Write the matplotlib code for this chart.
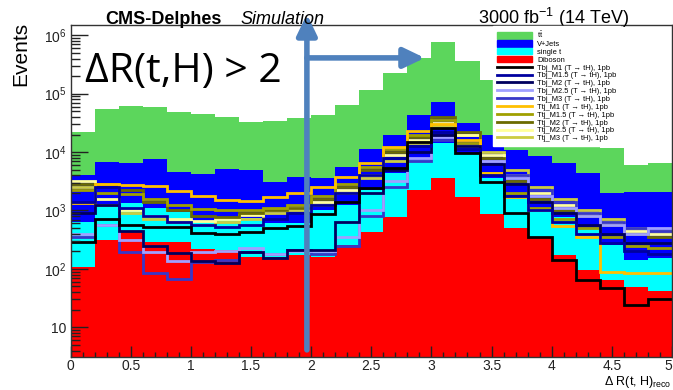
import numpy as np
import matplotlib.pyplot as plt
from matplotlib.patches import Patch
from matplotlib.lines import Line2D
from matplotlib.ticker import FixedLocator, FuncFormatter, MultipleLocator, LogLocator

plt.rcParams['font.family'] = ['Liberation Sans', 'DejaVu Sans']
plt.rcParams['mathtext.default'] = 'regular'

# 25 bins of 0.2 in Delta R(t,H)
bin_edges = np.arange(0, 5.01, 0.2)
x_ticks = [0, 0.5, 1, 1.5, 2, 2.5, 3, 3.5, 4, 4.5, 5]
x_labels = ['0', '0.5', '1', '1.5', '2', '2.5', '3', '3.5', '4', '4.5', '5']

# backgrounds (events per bin)
diboson = [107, 316, 427, 288, 288, 219, 209, 162, 162, 174, 162, 257, 427,
           776, 2239, 3631, 1698, 871, 501, 339, 174, 95, 65, 48, 41]
single_t = [524, 832, 922, 808, 645, 412, 483, 579, 455, 443, 861, 973, 1812,
            3589, 5005, 10494, 7852, 2760, 1197, 684, 602, 406, 192, 93, 114]
vjets = [3443, 5613, 5108, 6490, 3638, 3538, 4437, 4157, 2473, 3098, 2608, 4265,
         8981, 15133, 35414, 56670, 22073, 15867, 9017, 7488, 5681, 3864, 1738, 1948, 1934]
ttbar = [17804, 48193, 55203, 51298, 43292, 40499, 34682, 27461, 30794, 34304,
         39027, 57601, 103595, 204374, 364722, 687783, 331455, 150326, 82610,
         43970, 22383, 13013, 9754, 3937, 4368]

# signals, 1 pb each
tbj_m1 = [288, 708, 562, 525, 525, 417, 398, 427, 501, 550, 871, 1413, 2399, 5370,
          14791, 25704, 9550, 3090, 912, 355, 141, 65, 48, 24, 30]
tbj_m15 = [1413, 2512, 1122, 794, 631, 562, 525, 562, 708, 891, 1259, 1995, 3981,
           7943, 12589, 22387, 11220, 3981, 1778, 1000, 631, 398, 282, 200, 178]
tbj_m2 = [891, 1259, 447, 251, 186, 138, 126, 195, 155, 209, 209, 631, 1995, 5012,
          10000, 19953, 12589, 6310, 2818, 1413, 891, 562, 398, 282, 282]
tbj_m25 = [398, 575, 316, 195, 138, 195, 200, 224, 178, 200, 200, 355, 1000, 3162,
           7943, 17783, 12589, 7079, 3548, 1778, 1122, 794, 562, 398, 501]
tbj_m3 = [355, 575, 195, 85, 68, 132, 141, 191, 182, 209, 178, 251, 794, 2512,
          7079, 15849, 12589, 7079, 3981, 2239, 1413, 891, 631, 501, 447]
ttj_m1 = [1349, 2818, 2754, 2630, 2138, 1778, 1514, 1445, 1698, 1995, 2512, 3715,
          6457, 12303, 22909, 30200, 16218, 4365, 1698, 1023, 550, 355, 89, 85, 85]
ttj_m15 = [2239, 1995, 1905, 1585, 1259, 1047, 1000, 1000, 1122, 1259, 1778, 2818,
           5623, 11220, 19953, 35481, 14125, 4467, 1995, 1122, 708, 501, 355, 251, 224]
ttj_m2 = [2818, 2818, 2239, 1413, 1000, 794, 759, 891, 1000, 1122, 1585, 2512, 5012,
          10000, 17783, 39811, 22387, 7943, 3162, 1585, 1000, 794, 562, 398, 355]
ttj_m25 = [3162, 1585, 1000, 794, 708, 661, 708, 832, 1000, 1122, 1413, 2239, 3981,
           8913, 15849, 31623, 19953, 8913, 3981, 1995, 1259, 891, 631, 447, 398]
ttj_m3 = [2512, 1259, 891, 708, 631, 562, 631, 708, 891, 1000, 1259, 1995, 3548,
          7079, 14125, 28184, 19953, 10000, 5012, 2512, 1585, 1000, 708, 501, 447]

bkg_names = ['t$\\bar{t}$', 'V+Jets', 'single t', 'Diboson']
bkg_colors = ['#5cd65c', '#0000ff', '#00ffff', '#ff0000']

sig_names = ['Tbj_M1 (T \u2192 tH), 1pb', 'Tbj_M1.5 (T \u2192 tH), 1pb',
             'Tbj_M2 (T \u2192 tH), 1pb', 'Tbj_M2.5 (T \u2192 tH), 1pb',
             'Tbj_M3 (T \u2192 tH), 1pb', 'Ttj_M1 (T \u2192 tH), 1pb',
             'Ttj_M1.5 (T \u2192 tH), 1pb', 'Ttj_M2 (T \u2192 tH), 1pb',
             'Ttj_M2.5 (T \u2192 tH), 1pb', 'Ttj_M3 (T \u2192 tH), 1pb']
sig_colors = ['#000000', '#0000a0', '#00005e', '#a0a0ff', '#3838c8',
              '#ffc000', '#a0a000', '#6b6b00', '#ffff99', '#cccc40']
signals = [tbj_m1, tbj_m15, tbj_m2, tbj_m25, tbj_m3,
           ttj_m1, ttj_m15, ttj_m2, ttj_m25, ttj_m3]

fig = plt.figure(figsize=(6.73, 3.90), dpi=100)
ax = fig.add_axes([70.5/673, 1-357/390, 601.5/673, 332/390])
ax.set_yscale('log')

# stack: diboson at the bottom, ttbar on top
bottom = np.full(len(diboson), 0.1)
for vals, col in zip([diboson, single_t, vjets, ttbar], bkg_colors[::-1]):
    top = bottom + np.array(vals)
    ax.stairs(top, bin_edges, baseline=bottom, fill=True, color=col, lw=0)
    bottom = top

# signal lines, M1 on top
for vals, col in list(zip(signals, sig_colors))[::-1]:
    ax.stairs(vals, bin_edges, baseline=None, color=col, lw=2)

ax.set_xlim(0, 5)
ax.set_ylim(3.1, 1.5e6)

ax.set_xticks(x_ticks, x_labels)
ax.xaxis.set_minor_locator(MultipleLocator(0.1))
ax.get_xticklabels()[-1].set_horizontalalignment('right')  # "5" sits on the right edge
ax.yaxis.set_major_locator(FixedLocator([10, 1e2, 1e3, 1e4, 1e5, 1e6]))
ax.yaxis.set_minor_locator(LogLocator(base=10, subs=np.arange(2, 10)))
def yfmt(v, p):
    e = int(round(np.log10(v)))
    return '10' if e == 1 else '$10^{%d}$' % e
ax.yaxis.set_major_formatter(FuncFormatter(yfmt))

ax.tick_params(which='both', direction='in', labelsize=10, colors='#222222')
ax.tick_params(axis='y', which='major', length=12, width=1, pad=3)
ax.tick_params(axis='y', which='minor', length=6.5, width=1)
ax.tick_params(axis='x', which='major', length=8, width=1, pad=1.5)
ax.tick_params(axis='x', which='minor', length=3.5, width=1)
for s in ax.spines.values():
    s.set_color('#333333')
    s.set_linewidth(1)

# titles
fig.text(105/673, 1-24.5/390, 'CMS-Delphes', fontsize=13, fontweight='bold', va='baseline')
fig.text(240/673, 1-24.5/390, 'Simulation', fontsize=13, style='italic', va='baseline')
fig.text(478/673, 1-24/390, '3000 fb$^{-1}$ (14 TeV)', fontsize=13, va='baseline')
fig.text(21/673, 1-22/390, 'Events', fontsize=15, rotation=90, ha='center', va='top')
fig.text(671/673, 1-385.5/390, '\u0394 R(t, H)$_{reco}$', fontsize=9, ha='right', va='baseline')

# cut annotation
fig.text(85/673, 1-82/390, '\u0394R(t,H) > 2', fontsize=29.5, va='baseline',
         family=['Open Sans', 'DejaVu Sans'])
arrow_col = '#4f81bd'
ax.annotate('', xy=(1.965, 2.3e6), xytext=(1.965, 4.1),
            arrowprops=dict(arrowstyle='-|>,head_length=1.25,head_width=0.6',
                            color=arrow_col, lw=4, shrinkA=0, shrinkB=0),
            annotation_clip=False, zorder=5)
ax.annotate('', xy=(2.945, 4.1e5), xytext=(1.965, 4.1e5),
            arrowprops=dict(arrowstyle='-|>,head_length=1.25,head_width=0.6',
                            color=arrow_col, lw=4, shrinkA=0, shrinkB=0),
            annotation_clip=False, zorder=5)

handles = [Patch(facecolor=c, edgecolor=c) for c in bkg_colors]
handles += [Line2D([], [], color=c, lw=2) for c in sig_colors]
fig.legend(handles, bkg_names + sig_names, loc='upper left',
           bbox_to_anchor=(493/673, 1-26/390), fontsize=5.4, frameon=True,
           fancybox=False, edgecolor='white', facecolor='white', framealpha=1,
           borderpad=0.5, labelspacing=0.02, handlelength=4.7, handleheight=0.9,
           handletextpad=0.7, borderaxespad=0)

fig.savefig('out.png', dpi=100)
